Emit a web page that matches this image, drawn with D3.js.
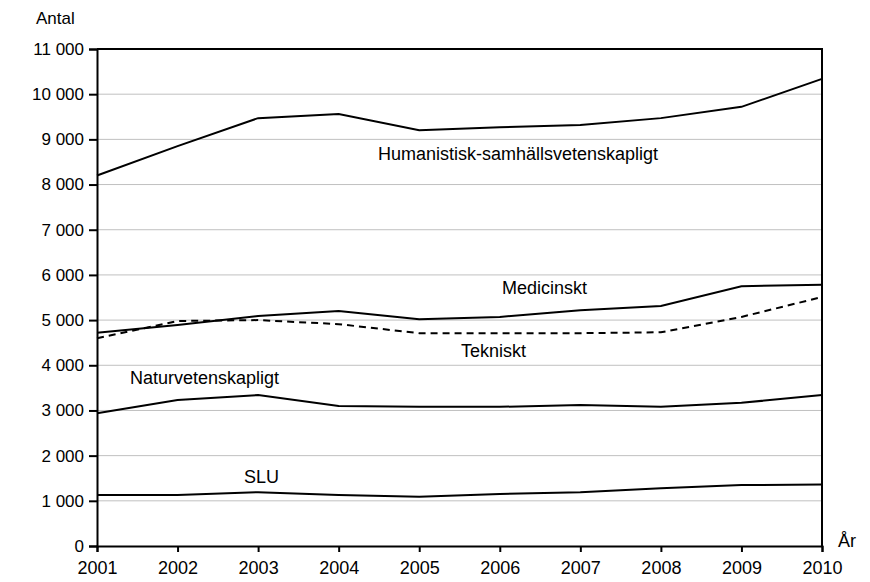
<!DOCTYPE html>
<html>
<head>
<meta charset="utf-8">
<script src="https://cdn.jsdelivr.net/npm/d3@7"></script>
<style>
  body { margin: 0; background: #fff; }
  text { font-family: "Liberation Sans", Arial, sans-serif; fill: #000; }
</style>
</head>
<body>
<script>
var w = 870, h = 582;

// data
var years = [2001, 2002, 2003, 2004, 2005, 2006, 2007, 2008, 2009, 2010];
var humanistisk = [8200, 8850, 9470, 9560, 9200, 9270, 9320, 9470, 9720, 10340];
var medicinskt = [4720, 4890, 5090, 5200, 5020, 5070, 5220, 5310, 5750, 5780];
var tekniskt = [4600, 4980, 5000, 4910, 4710, 4710, 4710, 4730, 5070, 5510];
var naturvet = [2940, 3230, 3340, 3100, 3080, 3080, 3120, 3080, 3170, 3340];
var slu = [1130, 1130, 1190, 1130, 1090, 1150, 1190, 1280, 1350, 1360];
var yTicks = d3.range(0, 12000, 1000);

var series = [
  { name: 'Humanistisk-samhällsvetenskapligt', values: humanistisk, dash: null, lx: 378, ly: 160 },
  { name: 'Medicinskt', values: medicinskt, dash: null, lx: 502, ly: 294 },
  { name: 'Tekniskt', values: tekniskt, dash: '7,5', lx: 461, ly: 357 },
  { name: 'Naturvetenskapligt', values: naturvet, dash: null, lx: 130, ly: 384 },
  { name: 'SLU', values: slu, dash: null, lx: 244, ly: 483 }
];

var m = { left: 97, right: 48, top: 49, bottom: 36 };

var x = d3.scaleLinear()
  .domain([2001, 2010])
  .range([m.left, w - m.right]);

var y = d3.scaleLinear()
  .domain([0, 11000])
  .range([h - m.bottom, m.top]);

var svg = d3.select('body').append('svg')
  .attr('width', w)
  .attr('height', h);

// grid
svg.append('g')
  .selectAll('line')
  .data(yTicks.slice(1, -1))
  .join('line')
    .attr('x1', m.left)
    .attr('x2', w - m.right)
    .attr('y1', (d) => y(d))
    .attr('y2', (d) => y(d))
    .attr('stroke', '#c0c0c0')
    .attr('stroke-width', 1);

var fmt = (d) => d3.format(',')(d).replace(/,/g, ' ');

var yAxis = svg.append('g')
  .attr('transform', 'translate(' + m.left + ',0)')
  .call(d3.axisLeft(y).tickValues(yTicks).tickFormat(fmt).tickSize(8).tickPadding(5));

var xAxis = svg.append('g')
  .attr('transform', 'translate(0,' + (h - m.bottom) + ')')
  .call(d3.axisBottom(x).tickValues(years).tickFormat(d3.format('d')).tickSize(6).tickPadding(9));

yAxis.selectAll('text').style('font-size', '17px');
xAxis.selectAll('text').style('font-size', '18px');
[yAxis, xAxis].forEach((g) => {
  g.selectAll('text').attr('fill', '#000');
  g.selectAll('line').attr('stroke', '#000').attr('stroke-width', 2);
  g.select('.domain').attr('stroke', '#000').attr('stroke-width', 2);
});

// frame top and right
svg.append('path')
  .attr('d', 'M' + m.left + ',' + y(11000) + 'H' + (w - m.right) + 'V' + y(0))
  .attr('fill', 'none')
  .attr('stroke', '#000')
  .attr('stroke-width', 2);

var line = d3.line()
  .x((d, i) => x(years[i]))
  .y((d) => y(d));

svg.append('g')
  .selectAll('path')
  .data(series)
  .join('path')
    .attr('d', (d) => line(d.values))
    .attr('fill', 'none')
    .attr('stroke', '#000')
    .attr('stroke-width', 2)
    .attr('stroke-dasharray', (d) => d.dash);

svg.append('g')
  .selectAll('text')
  .data(series)
  .join('text')
    .attr('x', (d) => d.lx)
    .attr('y', (d) => d.ly)
    .style('font-size', '18px')
    .text((d) => d.name);

svg.append('text')
  .attr('x', 36)
  .attr('y', 24)
  .style('font-size', '17px')
  .text('Antal');

svg.append('text')
  .attr('x', 838)
  .attr('y', 547)
  .style('font-size', '18px')
  .text('År');
</script>
</body>
</html>
